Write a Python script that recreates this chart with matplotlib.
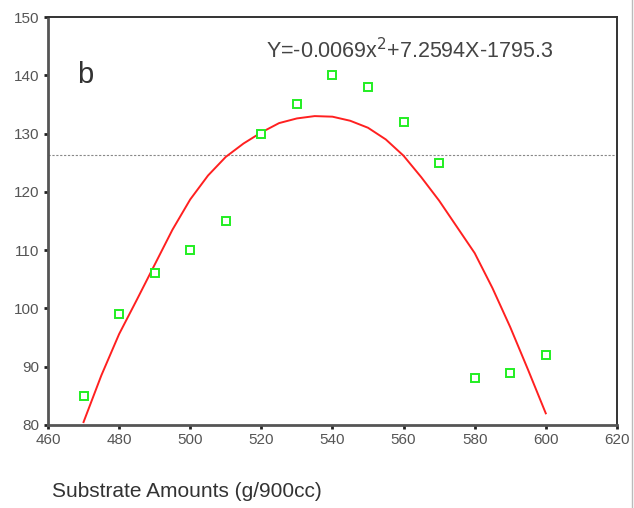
import numpy as np
import matplotlib.pyplot as plt

# measured points (substrate amount vs response)
x_obs = [470, 480, 490, 500, 510, 520, 530, 540, 550, 560, 570, 580, 590, 600]
y_obs = [85, 99, 106, 110, 115, 130, 135, 140, 138, 132, 125, 88, 89, 92]

# fitted curve
x_fit = [470, 475, 480, 485, 490, 495, 500, 505, 510, 515, 520, 525, 530, 535, 540,
         545, 550, 555, 560, 565, 570, 575, 580, 585, 590, 595, 600]
y_fit = [80.5, 88.5, 95.6, 101.5, 107.5, 113.5, 118.7, 122.8, 126.0, 128.3, 130.2, 131.8, 132.6, 133.0, 132.9,
         132.2, 131.0, 129.0, 126.2, 122.5, 118.5, 114.0, 109.5, 103.5, 96.8, 89.5, 82.0]

ref_level = 126.3

plt.rcParams['font.family'] = ['Liberation Sans', 'DejaVu Sans']

fig = plt.figure(figsize=(6.34, 5.08), dpi=100)
ax = fig.add_axes([0.0757, 0.1634, 0.8973, 0.8031])

ax.axhline(ref_level, color='#888888', linestyle=(0, (2, 1.5)), linewidth=0.8, zorder=1)
ax.plot(x_fit, y_fit, color='#ff2020', linewidth=1.4, zorder=2)
ax.plot(x_obs, y_obs, linestyle='none', marker='s', markersize=5.5,
        markerfacecolor='white', markeredgecolor='#22ee22', markeredgewidth=1.4, zorder=3)

ax.set_xlim(460, 620)
ax.set_ylim(80, 150)
ax.set_xticks(np.arange(460, 621, 20))
ax.set_yticks(np.arange(80, 151, 10))

for side in ['left', 'bottom']:
    ax.spines[side].set_color('#555555')
    ax.spines[side].set_linewidth(2)
for side in ['top', 'right']:
    ax.spines[side].set_color('#333333')
    ax.spines[side].set_linewidth(1.4)

ax.tick_params(direction='out', length=3, width=2, color='#222222',
               labelsize=11, labelcolor='#555555', pad=3)

ax.text(0.052, 0.838, 'b', transform=ax.transAxes, fontsize=21, color='#333333')
ax.text(521.2, 144.3, 'Y=-0.0069x$^2$+7.2594X-1795.3', fontsize=15.5,
        color='#444444', ha='left', va='center')

fig.text(0.294, 0.022, 'Substrate Amounts (g/900cc)', fontsize=15, color='#333333',
         ha='center')

# thin frame line on the right edge
fig.add_artist(plt.Line2D([0.997, 0.997], [0.0, 1.0], color='#bbbbbb', linewidth=1))

fig.savefig('out.png', dpi=100)
